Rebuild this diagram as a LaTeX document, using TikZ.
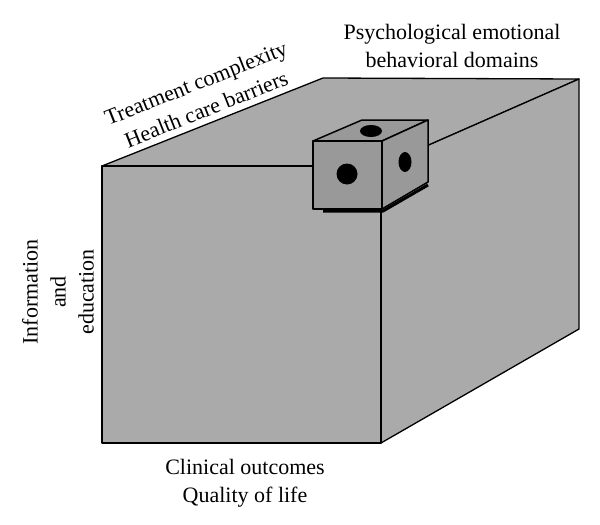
\documentclass[tikz,border=0pt]{standalone}
\usepackage{fontspec}
\setmainfont{Liberation Serif}
\definecolor{boxgray}{gray}{0.667}
\definecolor{diegray}{gray}{0.6}

\begin{document}
\begin{tikzpicture}[x=1pt, y=-1pt, line join=round,
    face/.style={draw, line width=1.3pt, fill=boxgray},
    dieface/.style={draw, line width=1.5pt, fill=diegray},
    pip/.style={fill=black},
    lbl/.style={align=center, inner sep=0pt, font=\fontsize{22}{28}\selectfont}]
    \useasboundingbox (0,0) rectangle (600,525);

    % big box
    \coordinate (ftl) at (102,166);
    \coordinate (ftr) at (381,166);
    \coordinate (fbr) at (381,443);
    \coordinate (btl) at (323,78);
    \coordinate (btr) at (579,79);
    \coordinate (bbr) at (579,329);
    \draw[face] (ftl) -- (btl) -- (btr) -- (ftr) -- cycle;
    \draw[face] (ftr) -- (btr) -- (bbr) -- (fbr) -- cycle;
    \draw[face] (ftl) rectangle (fbr);

    % small die
    \coordinate (dtl) at (313,141);
    \coordinate (dtr) at (382,141);
    \coordinate (dbr) at (382,209);
    \coordinate (dbtl) at (362,120);
    \coordinate (dbtr) at (428,120);
    \coordinate (dbbr) at (428,182);
    \draw[line width=3pt] (323,211) -- (383,211) -- (428,185);
    \draw[dieface] (dtl) -- (dbtl) -- (dbtr) -- (dtr) -- cycle;
    \draw[dieface] (dtr) -- (dbtr) -- (dbbr) -- (dbr) -- cycle;
    \draw[dieface] (dtl) rectangle (dbr);
    \fill[pip] (347,174) circle (10.5pt);
    \fill[pip] (405,162) ellipse [x radius=6.5pt, y radius=10pt];
    \fill[pip] (371,131) ellipse [x radius=11pt, y radius=6pt];

    % labels
    \node[lbl, rotate=21.7] (barriers) at (201,96) {Treatment complexity\\Health care barriers};
    \node[lbl, rotate=90] (info) at (58,292) {Information\\and\\education};
    \node[lbl] (psych) at (452,46) {Psychological emotional\\behavioral domains};
    \node[lbl] (clinical) at (245,483) {Clinical outcomes\\Quality of life};
\end{tikzpicture}
\end{document}
